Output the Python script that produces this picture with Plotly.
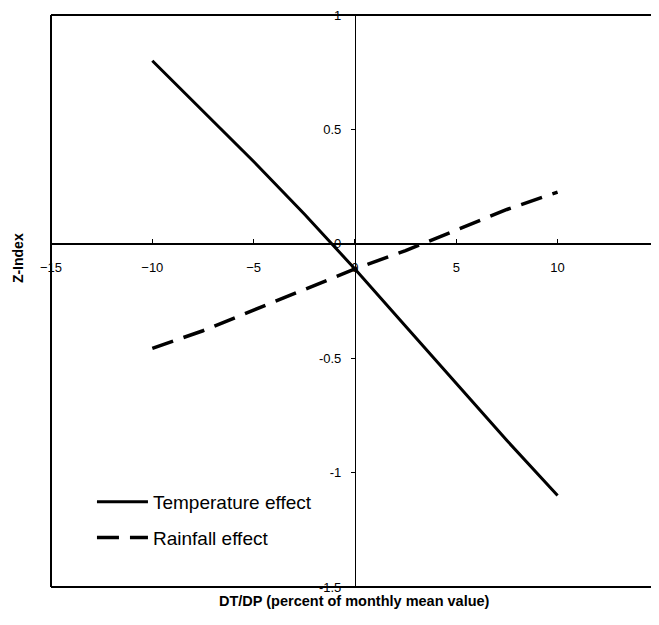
import plotly.graph_objects as go

# Data
x_vals = [-10, -7.5, -5, -2.5, 0, 2.5, 5, 7.5, 10]
temperature_effect = [0.80, 0.58, 0.36, 0.13, -0.11, -0.36, -0.61, -0.86, -1.10]
rainfall_effect = [-0.457, -0.38, -0.29, -0.20, -0.11, -0.03, 0.06, 0.15, 0.226]

x_ticks = [-15, -10, -5, 0, 5, 10, 15]
y_ticks = [-1.5, -1, -0.5, 0, 0.5, 1]
y_tick_labels = ["-1.5", "-1", "-0.5", "0", "0.5", "1"]

x_range = [-15, 15.4]
y_range = [-1.5, 1]

fig = go.Figure()
fig.add_trace(go.Scatter(
    x=x_vals, y=temperature_effect, mode="lines", name="Temperature effect",
    legendgroup="t", line=dict(color="black", width=3),
))
fig.add_trace(go.Scatter(
    x=x_vals, y=rainfall_effect, mode="lines", name="Rainfall effect",
    legendgroup="r", line=dict(color="black", width=3.5, dash="22px,11px"),
))

xpos = (0 - y_range[0]) / (y_range[1] - y_range[0])
ypos = (0 - x_range[0]) / (x_range[1] - x_range[0])

border = dict(color="black", width=2)

fig.update_layout(
    width=659, height=609,
    margin=dict(l=43, r=0, t=7, b=30),
    paper_bgcolor="white", plot_bgcolor="white",
    font=dict(family="Arial, Liberation Sans, sans-serif", color="black", size=13),
    showlegend=True,
    legend=dict(
        x=0.0665, y=0.182, xanchor="left", yanchor="top",
        bgcolor="rgba(0,0,0,0)", font=dict(size=19),
        traceorder="grouped", tracegroupgap=8, itemwidth=51,
    ),
    xaxis=dict(
        range=x_range, tickvals=x_ticks, showgrid=False, zeroline=False,
        anchor="free", position=xpos,
        showline=True, linecolor="black", linewidth=1.5,
        ticks="inside", ticklen=4, tickcolor="black",
        ticklabelstandoff=12, ticklabeloverflow="allow",
    ),
    yaxis=dict(
        range=y_range, tickvals=y_ticks, ticktext=y_tick_labels,
        showgrid=False, zeroline=False,
        anchor="free", position=ypos,
        showline=True, linecolor="black", linewidth=1,
        ticks="outside", ticklen=4, tickcolor="black",
        ticklabelstandoff=7, ticklabeloverflow="allow",
    ),
    shapes=[
        dict(type="line", xref="paper", yref="paper", x0=0, x1=1.05, y0=1, y1=1,
             line=border, layer="above"),
        dict(type="line", xref="paper", yref="paper", x0=0, x1=1.05, y0=0, y1=0,
             line=border, layer="above"),
        dict(type="line", xref="paper", yref="paper", x0=0, x1=0, y0=0, y1=1,
             line=border, layer="above"),
    ],
    annotations=[
        dict(text="<b>DT/DP (percent of monthly mean value)</b>", xref="paper", yref="paper",
             x=0.492, y=0, yshift=-14, xanchor="center", yanchor="middle",
             showarrow=False, font=dict(size=14.5)),
        dict(text="<b>Z-Index</b>", xref="paper", yref="paper",
             x=0, xshift=-33, y=0.575, textangle=-90,
             xanchor="center", yanchor="middle", showarrow=False, font=dict(size=14)),
    ],
)

fig.write_html("out.html")
